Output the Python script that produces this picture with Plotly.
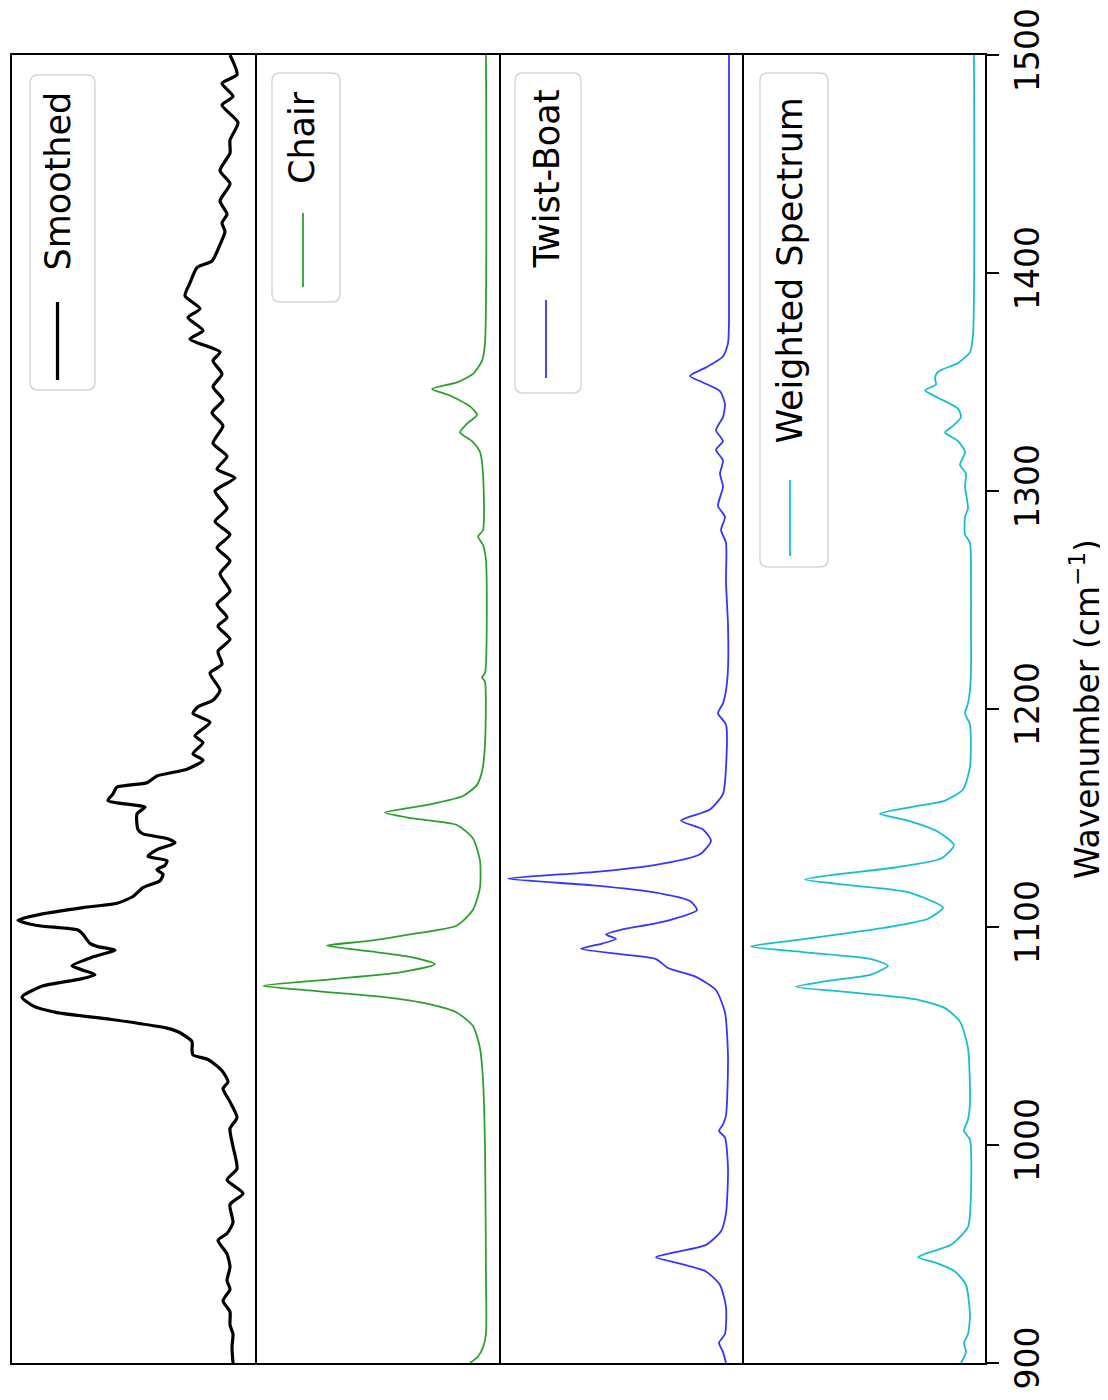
import plotly.graph_objects as go
from plotly.subplots import make_subplots

# ---------------- data (wavenumber in cm^-1, intensity in arbitrary units) ----------------
smoothed_wn = [1500, 1491, 1487, 1481, 1477, 1469, 1461, 1455, 1447, 1441, 1433, 1427, 1423, 1419, 1413,
               1405.5, 1402.5, 1395.5, 1389.5, 1383.6, 1379.6, 1373.6, 1369.7, 1363.7, 1359.7, 1353.7,
               1347.8, 1341.8, 1335.9, 1329.9, 1321.9, 1315.9, 1310, 1306, 1300, 1292, 1286, 1280, 1274,
               1268, 1262, 1254, 1248, 1242, 1238, 1232, 1226.5, 1220.5, 1216.5, 1208.6, 1204, 1201, 1198,
               1193.9, 1187.7, 1184.6, 1179.5, 1176.5, 1172.4, 1169.3, 1166.2, 1164.2, 1161.1, 1158.0,
               1156.0, 1155, 1151.9, 1144.7, 1142.7, 1140.6, 1138.6, 1135.5, 1132.4, 1130.4, 1128.3,
               1126.3, 1124.2, 1121.2, 1118.1, 1114.0, 1110.9, 1108.9, 1105.8, 1103.1, 1100.7, 1098.6,
               1096.6, 1092.5, 1091, 1089.4, 1086.3, 1082.2, 1080.2, 1078.1, 1076.1, 1073.0, 1067.9,
               1063.8, 1060.7, 1057.7, 1053.6, 1051.5, 1047.4, 1043.3, 1041.3, 1039.2, 1034.1, 1029.0,
               1025.9, 1019.8, 1012.6, 1007.5, 999.3, 989.1, 984.0, 977.8, 972.7, 964.5, 959.4, 956.3,
               950.1, 944.0, 937.8, 933.8, 928.6, 923.5, 917.4, 913.3, 907.1, 900]
smoothed_int = [14, 7, 22, 11, 22, 6, 14, 14, 24, 14, 24, 17, 22, 19, 24,
                32, 47, 54, 59, 44, 56, 41, 54, 24, 31, 22,
                31, 21, 32, 21, 31, 17, 27, 9, 29, 17, 29, 14, 27,
                14, 24, 14, 27, 17, 26, 14, 26, 22, 34, 24, 31, 46, 51,
                34, 49, 41, 51, 41, 57, 87, 97, 127, 131, 136,
                111, 99, 107, 106, 101, 77, 69, 87, 96, 77, 79,
                87, 81, 84, 101, 111, 127, 161, 204, 226, 207, 166,
                161, 154, 146, 129, 151, 172, 161, 149, 164, 201, 222,
                211, 187, 134, 77, 64, 52, 52, 51, 36, 22, 16,
                21, 14, 7, 14, 11, 7, 17, 1, 14, 11, 17, 26,
                17, 14, 17, 14, 21, 14, 14, 11, 12, 11]

chair_wn = [1500, 1367.7, 1359.7, 1353.7, 1349.8, 1346.8, 1343.8, 1338.8, 1334.9, 1330.9, 1326.9,
            1322.9, 1317.9, 1308, 1282, 1279.2, 1275.2, 1268, 1216.5, 1214.5, 1212.5, 1183.6, 1171.3,
            1165.2, 1160.1, 1156, 1152.5, 1149.8, 1146.8, 1140.6, 1130.4, 1118.1, 1107.9, 1100.7,
            1096.6, 1093.5, 1091.5, 1089, 1086.3, 1082.9, 1079.2, 1076.1, 1073.0, 1070.6, 1067.9,
            1064.8, 1060.7, 1054.6, 1044.4, 1030, 999.3, 937.9, 913.3, 907.1, 903, 900]
chair_int = [0, 1, 4, 13, 29, 54, 36, 16, 9, 19, 26,
             14, 6, 3, 3, 8, 3, 0, 1, 4, 1, 1, 4,
             9, 23, 59, 101, 73, 29, 13, 6, 6, 13, 29,
             76, 119, 159, 119, 76, 51, 86, 153, 223, 169, 103,
             59, 29, 13, 6, 3, 1, 0, 0, 3, 8, 16]

twist_wn = [1500, 1377.6, 1367.7, 1361.7, 1356.7, 1352.8, 1349.8, 1345.8, 1339.8, 1333.9, 1327.9,
            1322.9, 1318.9, 1314.0, 1308, 1302, 1293.1, 1288.1, 1282.1, 1276.2, 1258.3, 1238.4,
            1218.5, 1208.6, 1202.6, 1198, 1192.8, 1173.4, 1161.1, 1153.9, 1148.8, 1144.7, 1139.6,
            1133.4, 1128.3, 1125.2, 1122.2, 1119.1, 1116, 1111.9, 1107.8, 1102.7, 1098.6, 1096.6,
            1094.5, 1092.5, 1090, 1087.4, 1085.3, 1081.2, 1077.1, 1071, 1060.7, 1040.3, 1013.6,
            1009.5, 1006.5, 1003.4, 989.1, 968.6, 960.4, 954.2, 950.6, 948.5, 945.6, 942, 935.8,
            925.6, 913.3, 909.2, 905.1, 900]
twist_int = [2, 2, 3, 8, 25, 41, 28, 11, 6, 8, 15,
             8, 15, 8, 11, 8, 13, 6, 10, 5, 5, 3,
             3, 5, 8, 13, 5, 5, 8, 21, 50, 28, 20,
             31, 78, 138, 223, 138, 78, 41, 34, 65, 111, 125,
             115, 128, 150, 108, 75, 63, 35, 15, 6, 3, 5,
             8, 12, 6, 3, 5, 10, 25, 58, 75, 51, 25, 11,
             5, 6, 12, 8, 5]

weighted_wn = [1500, 1371.6, 1363.7, 1358.7, 1354.7, 1351.8, 1348.8, 1346.2, 1342.8, 1337.8, 1333.9,
               1329.9, 1326.9, 1322.9, 1317.9, 1312, 1308, 1302, 1292.1, 1288.1, 1280.2, 1276.2,
               1258.3, 1238.4, 1218.5, 1208.6, 1202.6, 1198, 1192.8, 1173.4, 1163.1, 1158, 1155,
               1151.9, 1148.8, 1143.7, 1137.5, 1131.4, 1127.3, 1124.2, 1121.8, 1119.1, 1116, 1108.9,
               1103.8, 1099.7, 1096.6, 1093.5, 1091.1, 1088.4, 1085.3, 1082.2, 1078.2, 1075.1, 1072.6,
               1070, 1066.9, 1062.8, 1056.6, 1044.4, 1019.8, 1011.6, 1006.5, 1002.4, 978.8, 962.4,
               954.2, 950.1, 948.5, 945.6, 942, 935.8, 921.5, 913.3, 909.2, 905.1, 900]
weighted_int = [0, 1, 4, 16, 36, 39, 38, 49, 36, 16, 13,
                21, 29, 16, 9, 14, 8, 9, 6, 9, 9, 4,
                3, 3, 3, 4, 6, 9, 4, 4, 11, 29, 63,
                94, 66, 36, 20, 33, 79, 136, 169, 123, 66, 31,
                46, 89, 136, 186, 223, 169, 103, 86, 103, 149, 178,
                123, 59, 29, 14, 6, 4, 6, 10, 4, 3, 6,
                23, 49, 56, 36, 19, 8, 4, 6, 10, 8, 13]

series_names = ["Smoothed", "Chair", "Twist-Boat", "Weighted Spectrum"]
wn_ticks = [900, 1000, 1100, 1200, 1300, 1400, 1500]

# ---------------- styling ----------------
# page has an 8px body margin, so the figure is drawn 8px smaller and the
# plot box coordinates below are in page pixels
OFF = 8
W, H = 1108 - OFF, 1400 - OFF
L, R, T, B = 12, 985, 55, 1363           # plot box, page pixels
FONT = "DejaVu Sans"
colors = ["#000000", "#2ca02c", "#3535ff", "#17becf"]
widths = [3.2, 1.8, 1.8, 1.8]
int_ranges = [[232, -11.25], [230.75, -12.5], [232.5, -10.75], [232.25, -11]]

fig = make_subplots(rows=1, cols=4, horizontal_spacing=0)

data = [(smoothed_wn, smoothed_int), (chair_wn, chair_int),
        (twist_wn, twist_int), (weighted_wn, weighted_int)]
for i, ((wn, inten), name) in enumerate(zip(data, series_names)):
    fig.add_trace(go.Scatter(x=inten, y=wn, mode="lines", name=name,
                             line=dict(color=colors[i], width=widths[i], shape="spline", smoothing=0.6),
                             showlegend=False, hoverinfo="skip"), row=1, col=i + 1)
    fig.update_xaxes(range=int_ranges[i], showticklabels=False, ticks="", showgrid=False,
                     zeroline=False, showline=True, mirror=True, linecolor="black", linewidth=2,
                     automargin=False, row=1, col=i + 1)
    if i == 0:
        # left frame plus the first divider
        fig.update_yaxes(range=[900, 1500], showticklabels=False, ticks="", showgrid=False,
                         zeroline=False, showline=True, mirror=True, linecolor="black", linewidth=2,
                         automargin=False, row=1, col=i + 1)
    elif i < 3:
        # only the right-hand divider, so dividers are not doubled
        fig.update_yaxes(range=[900, 1500], side="right", showticklabels=False, ticks="",
                         showgrid=False, zeroline=False, showline=True, mirror=False,
                         linecolor="black", linewidth=2, automargin=False, row=1, col=i + 1)
    else:
        fig.update_yaxes(range=[900, 1500], side="right", tickvals=wn_ticks,
                         ticktext=[str(v) for v in wn_ticks],
                         ticks="outside", ticklen=12, tickwidth=2, tickcolor="black",
                         tickangle=-90, tickfont=dict(size=33, color="black", family=FONT),
                         ticklabelstandoff=0, automargin=False,
                         title=dict(text="Wavenumber (cm<sup>\u22121</sup>)",
                                    font=dict(size=33, color="black", family=FONT), standoff=30),
                         showgrid=False, zeroline=False, showline=True, mirror=False,
                         linecolor="black", linewidth=2, row=1, col=i + 1)


def pxx(x):
    return (x - L) / (R - L)


def pxy(y):
    return (B - y) / (B - T)


def rrect(x0, y0, x1, y1, r=8):
    pts = [("M", [(x0 + r, y0)]), ("L", [(x1 - r, y0)]), ("Q", [(x1, y0), (x1, y0 + r)]),
           ("L", [(x1, y1 - r)]), ("Q", [(x1, y1), (x1 - r, y1)]), ("L", [(x0 + r, y1)]),
           ("Q", [(x0, y1), (x0, y1 - r)]), ("L", [(x0, y0 + r)]), ("Q", [(x0, y0), (x0 + r, y0)])]
    s = ""
    for cmd, ps in pts:
        s += cmd + " " + " ".join(f"{pxx(a):.5f},{pxy(b):.5f}" for a, b in ps) + " "
    return s + "Z"


# legend boxes (pixel boxes), handle lines, label centres
legend_boxes = [(30, 75, 95, 390), (272, 73, 340, 302), (515, 73, 581, 393), (760, 73, 828, 567)]
legend_handles = [(57.5, 302, 380), (303, 213, 287), (546, 300, 378), (790, 480, 556)]
legend_text = [(57.5, 181), (302.5, 137.5), (546, 179.5), (789.5, 271)]

shapes = []
annotations = []
for i in range(4):
    bx = legend_boxes[i]
    shapes.append(dict(type="path", path=rrect(*bx), xref="paper", yref="paper",
                       line=dict(color="#d6d6d6", width=1.5), fillcolor="rgba(255,255,255,0.8)"))
    hx, hy0, hy1 = legend_handles[i]
    shapes.append(dict(type="line", xref="paper", yref="paper", x0=pxx(hx), x1=pxx(hx),
                       y0=pxy(hy0), y1=pxy(hy1), line=dict(color=colors[i], width=widths[i])))
    tx, ty = legend_text[i]
    annotations.append(dict(text=series_names[i], x=pxx(tx), y=pxy(ty), xref="paper", yref="paper",
                            textangle=-90, showarrow=False, xanchor="center", yanchor="middle",
                            font=dict(size=35, color="black", family=FONT)))

fig.update_layout(width=W, height=H,
                  margin=dict(l=L - OFF, r=(W + OFF) - R, t=T - OFF, b=(H + OFF) - B, autoexpand=False),
                  plot_bgcolor="white", paper_bgcolor="white",
                  font=dict(family=FONT, color="black"),
                  shapes=shapes, annotations=annotations, showlegend=False)

fig.write_html("out.html")
